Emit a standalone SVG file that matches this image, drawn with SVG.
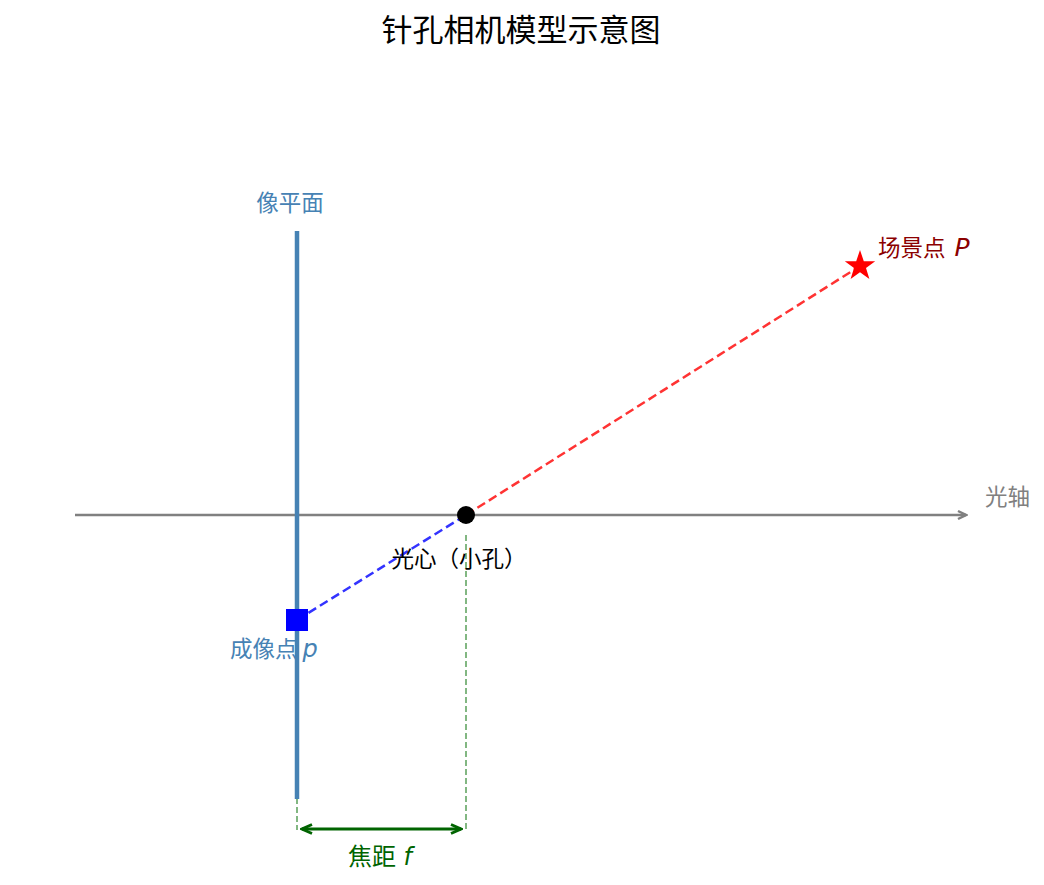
<svg xmlns="http://www.w3.org/2000/svg" width="1044" height="885" viewBox="0 0 1044 885">
<style>
text{font-family:"Noto Sans CJK SC","DejaVu Sans",sans-serif;}
.it{font-family:"DejaVu Sans",sans-serif;font-style:italic;}
.lbl{font-size:22.5px;}
</style>
<defs>
<marker id="ax" markerWidth="12" markerHeight="12" refX="10" refY="6" orient="auto" markerUnits="userSpaceOnUse">
<path d="M2,2 L10,6 L2,10" fill="none" stroke="#808080" stroke-width="2.5"/>
</marker>
<marker id="gs" markerWidth="14" markerHeight="12" refX="12" refY="6" orient="auto-start-reverse" markerUnits="userSpaceOnUse">
<path d="M2,1.5 L12,6 L2,10.5" fill="none" stroke="#006400" stroke-width="2.8"/>
</marker>
</defs>
<rect width="1044" height="885" fill="#fff"/>
<text x="521" y="41" font-size="31" text-anchor="middle" fill="#000">针孔相机模型示意图</text>
<g id="connectors">
<line x1="75" y1="515" x2="966" y2="515" stroke="#808080" stroke-width="2.5" marker-end="url(#ax)"/>
<line x1="466" y1="515" x2="860" y2="266" stroke="#ff3333" stroke-width="2.5" stroke-dasharray="9,4.5"/>
<line x1="297" y1="620" x2="466" y2="515" stroke="#3333ff" stroke-width="2.5" stroke-dasharray="9,4.5"/>
<line x1="297" y1="798" x2="297" y2="830" stroke="#5aa05a" stroke-width="1.5" stroke-dasharray="6,3"/>
<line x1="466" y1="535" x2="466" y2="830" stroke="#5aa05a" stroke-width="1.5" stroke-dasharray="6,3"/>
<line x1="302" y1="829" x2="461" y2="829" stroke="#006400" stroke-width="2.8" marker-start="url(#gs)" marker-end="url(#gs)"/>
</g>
<g id="image-plane">
<line x1="297" y1="231" x2="297" y2="799" stroke="#4682b4" stroke-width="4.5"/>
<text class="lbl" x="290" y="211" text-anchor="middle" fill="#4682b4">像平面</text>
</g>
<g id="optical-center">
<circle cx="466" cy="515" r="9" fill="#000"/>
<text class="lbl" x="459" y="567" text-anchor="middle" fill="#000">光心（小孔）</text>
</g>
<g id="image-point">
<rect x="286" y="609" width="22" height="22" fill="#0000ff"/>
<text class="lbl" x="230" y="657" fill="#4682b4">成像点 <tspan class="it" font-size="24">p</tspan></text>
</g>
<g id="scene-point">
<path d="M860,250 L863.8,261.2 L875.2,261.2 L866,268 L869.4,279 L860,272.3 L850.6,279 L854,268 L844.8,261.2 L856.2,261.2 Z" fill="#ff0000"/>
<text class="lbl" x="878" y="256" fill="#8b0000">场景点 <tspan class="it" font-size="25" dx="4">P</tspan></text>
</g>
<g id="optical-axis">
<text class="lbl" x="985" y="505" fill="#808080">光轴</text>
</g>
<g id="focal-length">
<text x="380" y="865" font-size="24" text-anchor="middle" fill="#006400">焦距 <tspan class="it" dx="2">f</tspan></text>
</g>
</svg>
